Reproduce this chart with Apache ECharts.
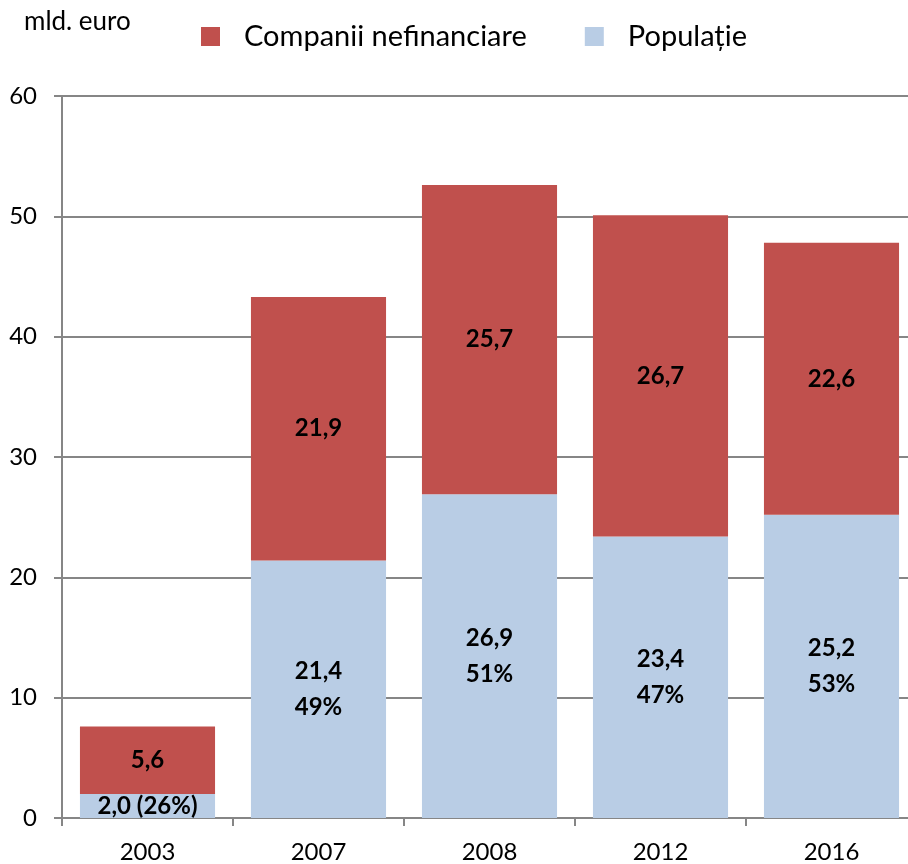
<!DOCTYPE html>
<html>
<head>
<meta charset="utf-8">
<script src="https://cdn.jsdelivr.net/npm/echarts@6/dist/echarts.min.js"></script>
<style>
  html, body { margin: 0; padding: 0; background: #fff; overflow: hidden; }
  #chart { width: 917px; height: 864px; }
</style>
</head>
<body>
<div id="chart"></div>
<script>
var years = ['2003', '2007', '2008', '2012', '2016'];
var populatie = [2.0, 21.4, 26.9, 23.4, 25.2];
var companii = [5.6, 21.9, 25.7, 26.7, 22.6];
var popShare = ['26%', '49%', '51%', '47%', '53%'];

var FONT = 'Lato, "Open Sans", sans-serif';

function fmt(v) {
    return v.toFixed(1).replace('.', ',');
}

// the plot area runs a bit past the right edge of the window in the reference
var chart = echarts.init(document.getElementById('chart'));
var option = {
    animation: false,
    textStyle: { fontFamily: FONT, color: '#000' },
    title: {
        text: 'mld. euro',
        left: 19,
        top: 4,
        textStyle: { fontFamily: FONT, fontSize: 26, fontWeight: 'normal', color: '#000' }
    },
    legend: {
        top: 17,
        left: 196,
        itemWidth: 19,
        itemHeight: 19,
        itemGap: 58,
        icon: 'rect',
        data: ['Companii nefinanciare', 'Populație'],
        textStyle: { fontFamily: FONT, fontSize: 29, color: '#000', padding: [0, 0, 0, 19] }
    },
    grid: {
        left: 62,
        right: 0,
        top: 96,
        bottom: 46,
        containLabel: false
    },
    xAxis: {
        type: 'category',
        data: years,
        axisLine: { lineStyle: { color: '#868686', width: 2 } },
        axisTick: { show: true, length: 8, lineStyle: { color: '#868686', width: 2 } },
        axisLabel: { fontFamily: FONT, fontSize: 24, color: '#000', margin: 22 }
    },
    yAxis: {
        type: 'value',
        min: 0,
        max: 60,
        interval: 10,
        axisLine: { show: true, lineStyle: { color: '#868686', width: 2 } },
        axisTick: { show: true, length: 8, lineStyle: { color: '#868686', width: 2 } },
        axisLabel: { fontFamily: FONT, fontSize: 24, color: '#000', margin: 25 },
        splitLine: { lineStyle: { color: '#868686', width: 2 } }
    },
    series: [{
        name: 'Populație',
        type: 'bar',
        stack: 'total',
        barCategoryGap: '21%',
        data: populatie,
        itemStyle: { color: '#B9CDE5' },
        label: {
            show: true,
            position: 'inside',
            fontFamily: FONT,
            fontSize: 24,
            fontWeight: 'bold',
            color: '#000',
            lineHeight: 36,
            formatter: function (p) {
                if (p.dataIndex === 0) return fmt(p.value) + ' (' + popShare[0] + ')';
                return fmt(p.value) + '\n' + popShare[p.dataIndex];
            }
        }
    }, {
        name: 'Companii nefinanciare',
        type: 'bar',
        stack: 'total',
        barCategoryGap: '21%',
        data: companii,
        itemStyle: { color: '#C0504D' },
        label: {
            show: true,
            position: 'inside',
            fontFamily: FONT,
            fontSize: 24,
            fontWeight: 'bold',
            color: '#000',
            formatter: function (p) { return fmt(p.value); }
        }
    }]
};
chart.setOption(option);
</script>
</body>
</html>
